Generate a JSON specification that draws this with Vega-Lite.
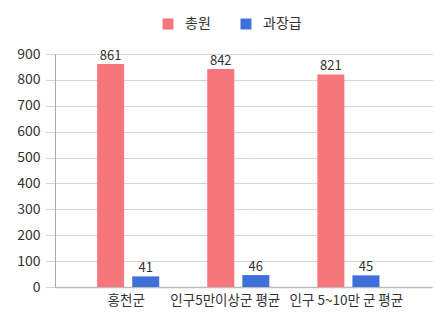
{
  "$schema": "https://vega.github.io/schema/vega-lite/v6.json",
  "width": 377,
  "height": 233,
  "autosize": {"type": "none"},
  "padding": {"left": 55, "top": 54, "right": 4, "bottom": 35},
  "background": "white",
  "config": {
    "font": "Noto Sans CJK KR",
    "view": {"stroke": null}
  },
  "data": {
    "values": [
      {"region": "홍천군", "series": "총원", "value": 861},
      {"region": "홍천군", "series": "과장급", "value": 41},
      {"region": "인구5만이상군 평균", "series": "총원", "value": 842},
      {"region": "인구5만이상군 평균", "series": "과장급", "value": 46},
      {"region": "인구 5~10만 군 평균", "series": "총원", "value": 821},
      {"region": "인구 5~10만 군 평균", "series": "과장급", "value": 45}
    ]
  },
  "encoding": {
    "x": {
      "field": "region",
      "type": "nominal",
      "sort": null,
      "scale": {"paddingInner": 0.436, "paddingOuter": 0.43, "align": 0.445},
      "axis": {
        "title": null,
        "labelAngle": 0,
        "labelFontSize": 13.5,
        "labelColor": "#333",
        "labelPadding": 6,
        "labelOffset": {
          "condition": {"test": "datum.value == '인구5만이상군 평균'", "value": -13},
          "value": -2
        },
        "ticks": false,
        "domainColor": "#bbb",
        "domainWidth": 1.5
      }
    },
    "xOffset": {
      "field": "series",
      "type": "nominal",
      "sort": ["총원", "과장급"],
      "scale": {"paddingInner": 0.23, "paddingOuter": 0}
    },
    "y": {
      "field": "value",
      "type": "quantitative",
      "scale": {"domain": [0, 900]},
      "axis": {
        "title": null,
        "values": [0, 100, 200, 300, 400, 500, 600, 700, 800, 900],
        "labelFontSize": 14,
        "labelColor": "#333",
        "labelPadding": 6,
        "tickSize": 9,
        "tickColor": "#aaa",
        "tickDash": [1, 1],
        "gridColor": "#aaa",
        "gridDash": [1, 1],
        "domainColor": "#aaa"
      }
    }
  },
  "layer": [
    {
      "mark": {"type": "bar"},
      "encoding": {
        "color": {
          "field": "series",
          "type": "nominal",
          "sort": ["총원", "과장급"],
          "scale": {"domain": ["총원", "과장급"], "range": ["#f7767b", "#3f6fd8"]},
          "legend": {
            "title": null,
            "orient": "none",
            "direction": "horizontal",
            "legendX": 106,
            "legendY": -37,
            "symbolType": "square",
            "symbolSize": 120,
            "labelFontSize": 14,
            "labelColor": "#333",
            "columnPadding": 28,
            "labelOffset": 10
          }
        }
      }
    },
    {
      "mark": {"type": "text", "dy": -8, "fontSize": 13, "color": "#333"},
      "encoding": {
        "text": {"field": "value", "type": "quantitative"}
      }
    }
  ]
}
